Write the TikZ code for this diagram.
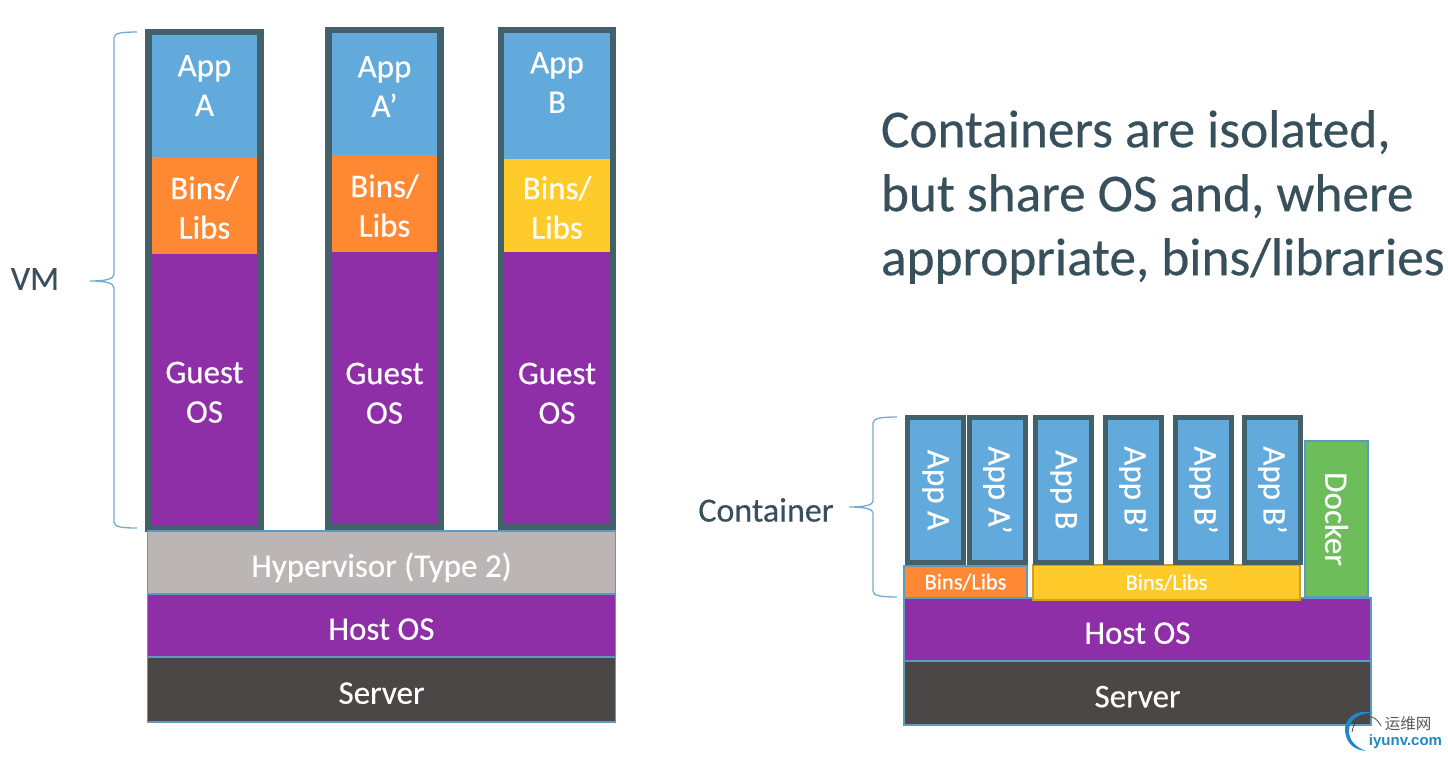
\documentclass[tikz,border=0pt]{standalone}
\usepackage{fontspec}
\setmainfont{Carlito}[FakeBold=0.35]
\newfontfamily\cjkfont{Noto Sans CJK SC}
\newfontfamily\logofont{Liberation Sans}
\usetikzlibrary{positioning, fit}

\definecolor{appblue}{HTML}{62A9DC}
\definecolor{binorange}{HTML}{FF8833}
\definecolor{binyellow}{HTML}{FFCB2B}
\definecolor{ospurple}{HTML}{8E2FA7}
\definecolor{hypergrey}{HTML}{BBB6B5}
\definecolor{serverdark}{HTML}{4B4746}
\definecolor{dockergreen}{HTML}{6EBD5B}
\definecolor{framedark}{HTML}{44606B}
\definecolor{edgeblue}{HTML}{5B9BC0}
\definecolor{inkdark}{HTML}{37505C}
\definecolor{logoblue}{HTML}{1E88C8}

\begin{document}
\begin{tikzpicture}[x=1pt, y=-1pt]
        \tikzstyle{layer} = [rectangle, inner sep=0pt, outer sep=0pt, text=white, align=center, font=\fontsize{33}{39.5}\selectfont]
        \tikzstyle{vmlayer} = [layer, minimum width=112pt]
        \tikzstyle{vmframe} = [rectangle, draw=framedark, line width=6.5pt, inner sep=0pt, outer sep=0pt]
        \tikzstyle{base} = [layer, draw=edgeblue, line width=1.3pt]
        \tikzstyle{baseleft} = [base, minimum width=468pt, text height=28.5pt, text depth=0pt]
        \tikzstyle{baseright} = [base, minimum width=467pt, text height=28.5pt, text depth=0pt]
        \tikzstyle{container} = [layer, draw=framedark, line width=5pt, fill=appblue, minimum width=56pt, minimum height=145pt]
        \tikzstyle{smallbins} = [base, font=\fontsize{22.5}{26}\selectfont]
        \tikzstyle{bracket} = [draw=edgeblue!85!white, line width=1.3pt]
        \tikzstyle{caption} = [inner sep=0pt, outer sep=0pt, text=inkdark, font=\fontsize{34}{40}\selectfont]

        \useasboundingbox (0,0) rectangle (1448,758);

        % first virtual machine
        \node (appa) [vmlayer, fill=appblue, minimum height=125pt, text depth=18pt, anchor=north west] at (148.5,32) {App\\A};
        \node (binsa) [vmlayer, fill=binorange, minimum height=97pt, text height=66.5pt, below=0pt of appa] {Bins/\\Libs};
        \node (guesta) [vmlayer, fill=ospurple, minimum height=275pt, text height=62.5pt, below=0pt of binsa] {Guest\\OS};
        \node (framea) [vmframe, fit=(appa)(guesta)] {};

        % second virtual machine
        \node (appaprime) [vmlayer, fill=appblue, minimum height=125pt, text depth=12pt, anchor=north west] at (328.5,30) {App\\A’};
        \node (binsaprime) [vmlayer, fill=binorange, minimum height=97pt, text height=66.5pt, below=0pt of appaprime] {Bins/\\Libs};
        \node (guestaprime) [vmlayer, fill=ospurple, minimum height=275pt, text height=68.5pt, below=0pt of binsaprime] {Guest\\OS};
        \node (frameaprime) [vmframe, fit=(appaprime)(guestaprime)] {};

        % third virtual machine
        \node (appb) [vmlayer, fill=appblue, minimum height=129pt, text depth=24pt, anchor=north west] at (501,30) {App\\B};
        \node (binsb) [vmlayer, fill=binyellow, minimum height=93pt, text height=66.5pt, below=0pt of appb] {Bins/\\Libs};
        \node (guestb) [vmlayer, fill=ospurple, minimum height=275pt, text height=68.5pt, below=0pt of binsb] {Guest\\OS};
        \node (frameb) [vmframe, fit=(appb)(guestb)] {};

        % left base
        \node (hypervisor) [baseleft, fill=hypergrey, minimum height=63pt, anchor=north west] at (147.5,531) {Hypervisor (Type 2)};
        \node (hostleft) [baseleft, fill=ospurple, minimum height=63pt, below=0pt of hypervisor] {Host OS};
        \node (serverleft) [baseleft, fill=serverdark, minimum height=65pt, below=0pt of hostleft] {Server};

        % right base
        \node (hostright) [baseright, fill=ospurple, minimum height=63pt, anchor=north west] at (904,598) {Host OS};
        \node (serverright) [baseright, fill=serverdark, minimum height=64pt, below=0pt of hostright] {Server};

        \node (binsleft) [smallbins, fill=binorange, minimum width=123pt, minimum height=32pt, anchor=south west] at (904,598) {Bins/Libs};
        \node (binsright) [smallbins, draw=binyellow!80!black, fill=binyellow, minimum width=267pt, minimum height=35pt, anchor=north west] at (1033,565) {Bins/Libs};
        \node (docker) [base, fill=dockergreen, minimum width=63pt, minimum height=156pt, anchor=south west] at (1305,597) {\rotatebox{-90}{Docker}};

        % containers
        \node (conta) [container, anchor=north west] at (907.5,417.5) {\rotatebox{-90}{App A}};
        \node (contaprime) [container, right=6pt of conta] {\rotatebox{-90}{App A’}};
        \node (contb) [container, right=10pt of contaprime] {\rotatebox{-90}{App B}};
        \node (contbone) [container, right=14pt of contb] {\rotatebox{-90}{App B’}};
        \node (contbtwo) [container, right=14pt of contbone] {\rotatebox{-90}{App B’}};
        \node (contbthree) [container, right=13pt of contbtwo] {\rotatebox{-90}{App B’}};

        % labels
        \node (vmlabel) [caption] at (35,279) {VM};
        \node (containerlabel) [caption] at (766,510) {Container};
        \node (headline) [caption, align=left, anchor=west, font=\fontsize{53.3}{64}\selectfont] at (881,197) {Containers are isolated,\\but share OS and, where\\appropriate, bins/libraries};

        % braces
        \coordinate (vmtop) at (137,32);
        \coordinate (vmtip) at (90,281);
        \coordinate (vmbottom) at (137,528);
        \draw [bracket] (vmtop) .. controls (122,32) and (114,33) .. (114,38) -- (114,274) .. controls (114,279) and (106,281) .. (vmtip) .. controls (106,281) and (114,283) .. (114,288) -- (114,522) .. controls (114,527) and (122,528) .. (vmbottom);

        \coordinate (conttop) at (897,417);
        \coordinate (conttip) at (849,507);
        \coordinate (contbottom) at (897,597);
        \draw [bracket] (conttop) .. controls (882,417) and (873,418) .. (873,423) -- (873,501) .. controls (873,505) and (865,507) .. (conttip) .. controls (865,507) and (873,509) .. (873,513) -- (873,591) .. controls (873,596) and (882,597) .. (contbottom);

        % watermark
        \fill [logoblue] (1373,713) .. controls (1354,708) and (1344,720) .. (1345,731) .. controls (1346,743) and (1354,750) .. (1366,751) .. controls (1355,747) and (1349,740) .. (1349,731) .. controls (1349,720) and (1358,713) .. (1373,713) -- cycle;
        \draw [serverdark, line width=0.8pt] (1352,732) .. controls (1353,718) and (1372,708) .. (1381,726);
        \node (logocn) [inner sep=0pt, text=black!65, font=\cjkfont\fontsize{15.5}{18}\selectfont] at (1408,724) {运维网};
        \node (logoen) [inner sep=0pt, text=logoblue, font=\logofont\bfseries\fontsize{15}{18}\selectfont] at (1405.5,742) {iyunv.com};
    \end{tikzpicture}
\end{document}
